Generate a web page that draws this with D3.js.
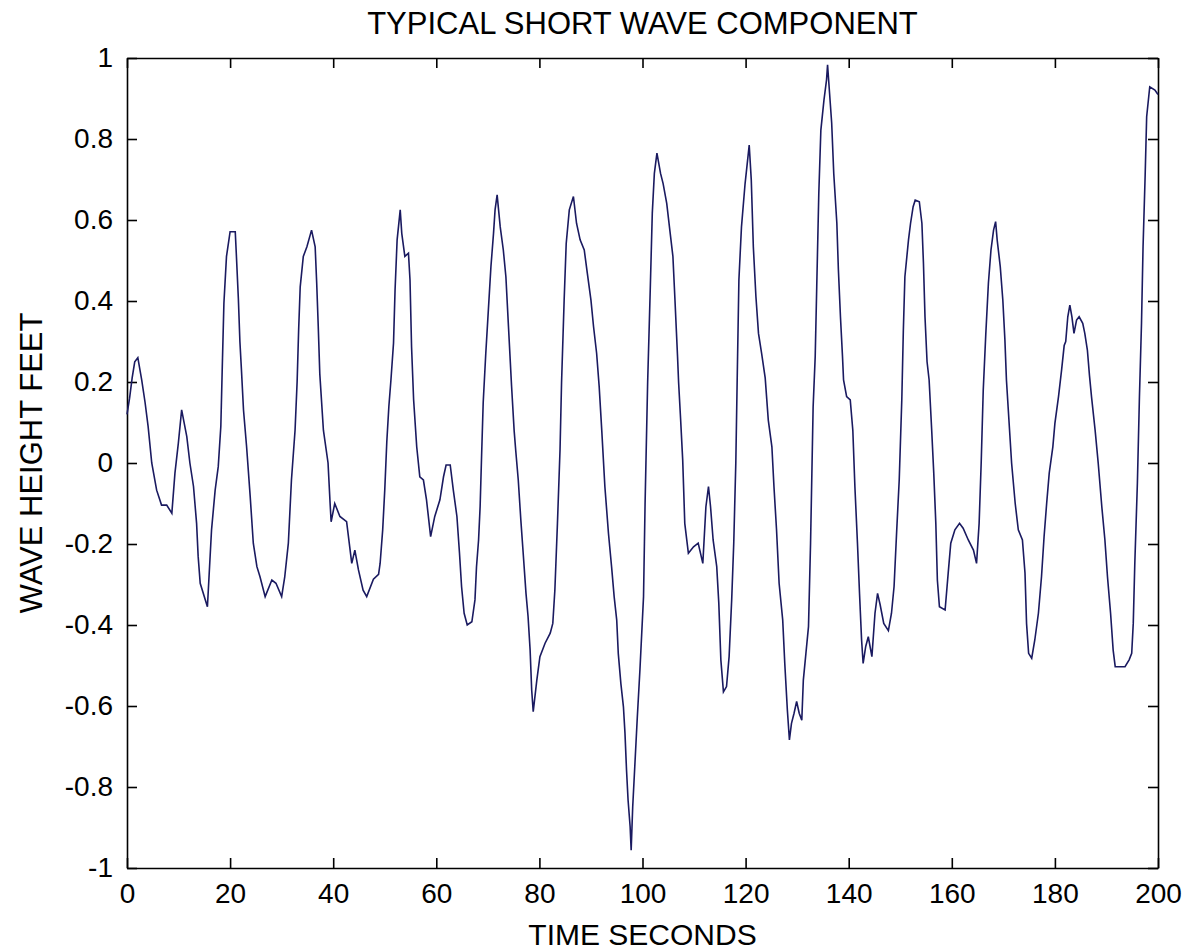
<!DOCTYPE html>
<html>
<head>
<meta charset="utf-8">
<script src="https://cdn.jsdelivr.net/npm/d3@7"></script>
<style>
  body { margin: 0; background: #fff; }
  text { font-family: "Liberation Sans", Arial, sans-serif; fill: #000; }
</style>
</head>
<body>
<svg width="1190" height="951"></svg>
<script>
// wave record
var times = [0, 0.5, 1.0, 1.5, 2.1, 2.85, 3.5, 4.1, 4.8, 5.75, 6.7, 7.7, 8.7, 9.3, 9.96, 10.6, 11.6, 12.2, 12.9, 13.5,
  13.8, 14.2, 15.6, 16.4, 17.1, 17.7, 18.2, 18.5, 18.8, 19.3, 20, 21, 21.2, 21.6, 21.9, 22.2, 22.6, 23.2, 23.9, 24.5,
  25.2, 25.8, 26.8, 28.1, 28.9, 30, 30.6, 31.3, 31.9, 32.6, 33.0, 33.3, 33.6, 34.2, 34.9, 35.8, 36.5, 36.8, 37.1, 37.4,
  38.1, 39.0, 39.4, 39.6, 40.3, 41.3, 42.6, 43.6, 44.2, 44.9, 45.8, 46.5, 47.8, 48.8, 49.1, 49.6, 50.0, 50.4, 50.8, 51.2,
  51.7, 52.0, 52.4, 53.0, 53.3, 53.9, 54.6, 54.9, 55.2, 55.6, 56.2, 56.8, 57.5, 58.1, 58.9, 59.7, 60.7, 61.4, 61.9, 62.7,
  63.3, 64.0, 64.5, 64.9, 65.4, 66.0, 66.9, 67.5, 67.8, 68.2, 68.5, 68.8, 69.1, 69.6, 70.1, 70.6, 71.1, 71.4, 71.8, 72.4,
  73.0, 73.5, 74.0, 74.6, 75.1, 75.4, 75.9, 76.4, 76.9, 77.4, 77.8, 78.2, 78.5, 78.8, 79.5, 80.1, 81.1, 82.1, 82.6, 83.0,
  83.5, 84.0, 84.3, 84.8, 85.2, 85.8, 86.6, 87.2, 87.9, 88.7, 89.3, 90.0, 90.5, 91.1, 91.6, 92.1, 92.7, 93.4, 94.0, 94.5,
  95.0, 95.3, 95.8, 96.3, 96.6, 96.9, 97.2, 97.6, 97.8, 98.1, 98.5, 99.0, 99.5, 100.2, 100.5, 101.0, 101.5, 101.9, 102.3, 102.8,
  103.5, 104.0, 104.7, 105.3, 105.9, 106.3, 106.8, 107.0, 107.4, 107.8, 108.2, 108.9, 109.9, 110.8, 111.7, 112.3, 112.8, 113.2, 113.7, 114.4,
  114.8, 115.2, 115.7, 116.3, 116.8, 117.3, 117.7, 118.1, 118.4, 118.7, 119.2, 119.9, 120.7, 121.1, 121.5, 122.0, 122.5, 123.1, 123.8, 124.4,
  125.1, 125.5, 126.0, 126.5, 127.2, 127.6, 128.1, 128.5, 128.9, 129.4, 129.9, 130.4, 130.9, 131.2, 131.7, 132.2, 132.6, 133.1, 133.5, 133.8,
  134.2, 134.6, 135.2, 135.7, 135.9, 136.2, 136.7, 137.1, 137.7, 138.0, 138.4, 138.8, 139.0, 139.6, 140.3, 140.8, 141.2, 141.7, 142.1, 142.5,
  142.8, 143.3, 143.8, 144.5, 145.1, 145.6, 146.1, 146.8, 147.7, 148.3, 148.8, 149.3, 149.8, 150.3, 150.6, 150.9, 151.6, 152.0, 152.5, 152.9,
  153.7, 154.2, 154.5, 154.8, 155.2, 155.6, 156.1, 156.5, 156.9, 157.2, 157.6, 158.7, 159.3, 159.8, 160.6, 161.5, 162.2, 163.2, 164.2, 164.8,
  165.3, 165.7, 166.1, 166.6, 167.1, 167.6, 168.1, 168.5, 168.8, 169.4, 169.9, 170.3, 170.6, 171.0, 171.6, 172.3, 172.9, 173.7, 174.2, 174.5,
  174.9, 175.5, 176.1, 176.8, 177.4, 177.9, 178.4, 178.9, 179.6, 180.0, 180.7, 181.3, 181.8, 182.1, 182.5, 182.9, 183.3, 183.7, 184.2, 184.7,
  185.4, 185.8, 186.3, 186.7, 187.1, 187.8, 188.4, 189.1, 189.7, 190.2, 190.8, 191.3, 191.7, 193.6, 194.4, 194.9, 195.2, 195.5, 196.0, 196.4,
  196.8, 197.1, 197.5, 197.8, 198.4, 199.4, 200];

var heights = [0.12, 0.16, 0.21, 0.25, 0.26, 0.205, 0.15, 0.09, 0, -0.067, -0.104, -0.104, -0.124, -0.025, 0.049, 0.131, 0.065, 0, -0.058, -0.149,
  -0.23, -0.297, -0.355, -0.165, -0.067, -0.009, 0.09, 0.246, 0.395, 0.51, 0.571, 0.571, 0.518, 0.407, 0.30, 0.23, 0.131, 0.04, -0.083, -0.198,
  -0.256, -0.281, -0.33, -0.289, -0.297, -0.33, -0.281, -0.198, -0.042, 0.081, 0.2, 0.33, 0.435, 0.51, 0.534, 0.575, 0.534, 0.444, 0.337, 0.22,
  0.081, 0, -0.1, -0.145, -0.1, -0.132, -0.145, -0.248, -0.215, -0.264, -0.314, -0.33, -0.287, -0.275, -0.248, -0.165, -0.067, 0.053, 0.14, 0.205,
  0.296, 0.427, 0.551, 0.625, 0.567, 0.51, 0.518, 0.452, 0.287, 0.156, 0.04, -0.034, -0.042, -0.091, -0.182, -0.132, -0.091, -0.034, -0.005, -0.005,
  -0.067, -0.132, -0.223, -0.305, -0.371, -0.4, -0.392, -0.338, -0.256, -0.19, -0.108, 0.024, 0.15, 0.271, 0.378, 0.485, 0.567, 0.625, 0.662, 0.583,
  0.526, 0.46, 0.337, 0.19, 0.08, 0.032, -0.042, -0.141, -0.231, -0.322, -0.379, -0.462, -0.56, -0.614, -0.536, -0.478, -0.445, -0.42, -0.396, -0.314,
  -0.149, 0.032, 0.2, 0.402, 0.542, 0.625, 0.658, 0.592, 0.551, 0.526, 0.468, 0.402, 0.337, 0.271, 0.188, 0.08, -0.058, -0.174, -0.256, -0.33,
  -0.388, -0.47, -0.544, -0.602, -0.667, -0.758, -0.832, -0.898, -0.956, -0.849, -0.75, -0.626, -0.511, -0.33, -0.1, 0.2, 0.427, 0.617, 0.715, 0.765,
  0.715, 0.69, 0.641, 0.575, 0.51, 0.402, 0.262, 0.2, 0.106, 0.007, -0.149, -0.223, -0.207, -0.198, -0.248, -0.108, -0.058, -0.108, -0.19, -0.256,
  -0.346, -0.486, -0.565, -0.552, -0.478, -0.338, -0.198, 0, 0.23, 0.452, 0.583, 0.69, 0.785, 0.699, 0.534, 0.411, 0.32, 0.271, 0.21, 0.106,
  0.04, -0.058, -0.165, -0.297, -0.388, -0.495, -0.61, -0.684, -0.643, -0.618, -0.589, -0.618, -0.635, -0.536, -0.47, -0.404, -0.198, 0.139, 0.262, 0.435,
  0.666, 0.822, 0.896, 0.946, 0.983, 0.929, 0.839, 0.715, 0.592, 0.477, 0.361, 0.262, 0.205, 0.164, 0.156, 0.081, -0.058, -0.198, -0.322, -0.437,
  -0.495, -0.453, -0.429, -0.478, -0.371, -0.322, -0.35, -0.396, -0.414, -0.371, -0.305, -0.17, -0.042, 0.156, 0.328, 0.46, 0.551, 0.592, 0.633, 0.649,
  0.645, 0.592, 0.493, 0.361, 0.25, 0.205, 0.081, -0.025, -0.149, -0.289, -0.355, -0.363, -0.272, -0.198, -0.165, -0.149, -0.161, -0.19, -0.215, -0.248,
  -0.149, 0, 0.18, 0.32, 0.444, 0.526, 0.575, 0.596, 0.551, 0.485, 0.402, 0.304, 0.205, 0.123, 0, -0.1, -0.165, -0.19, -0.272, -0.396,
  -0.47, -0.482, -0.437, -0.371, -0.281, -0.182, -0.1, -0.025, 0.04, 0.098, 0.164, 0.23, 0.29, 0.3, 0.361, 0.39, 0.361, 0.32, 0.353, 0.361,
  0.345, 0.32, 0.279, 0.217, 0.164, 0.081, 0, -0.108, -0.19, -0.281, -0.371, -0.462, -0.503, -0.503, -0.486, -0.47, -0.396, -0.248, -0.05, 0.164,
  0.345, 0.534, 0.707, 0.855, 0.929, 0.921, 0.91];

var xTicks = [0, 20, 40, 60, 80, 100, 120, 140, 160, 180, 200];
var yTicks = [-1, -0.8, -0.6, -0.4, -0.2, 0, 0.2, 0.4, 0.6, 0.8, 1];
var yTickLabels = ['-1', '-0.8', '-0.6', '-0.4', '-0.2', '0', '0.2', '0.4', '0.6', '0.8', '1'];

var svg = d3.select('svg'),
  margin = {top: 58, right: 32, bottom: 83, left: 127},
  w = +svg.attr('width') - margin.left - margin.right,
  h = +svg.attr('height') - margin.top - margin.bottom,
  g = svg.append('g').attr('transform', 'translate(' + margin.left + ',' + margin.top + ')');

var x = d3.scaleLinear().domain([0, 200]).range([0, w]);
var y = d3.scaleLinear().domain([-1, 1]).range([h, 0]);

var tickLen = 10, fs = 28;

// matlab style: ticks point inwards on all four sides
function style(ax) {
  ax.select('.domain').attr('stroke', '#000').attr('stroke-width', 1.6);
  ax.selectAll('.tick line').attr('stroke', '#000').attr('stroke-width', 1.6);
  ax.selectAll('.tick text').style('font-size', fs + 'px').attr('fill', '#1a1a1a');
  ax.attr('font-family', null).attr('font-size', null);
}

g.append('g')
  .attr('transform', 'translate(0,' + h + ')')
  .call(d3.axisBottom(x).tickValues(xTicks).tickSize(-tickLen).tickSizeOuter(0).tickPadding(15).tickFormat(d3.format('d')))
  .call(style);

g.append('g')
  .call(d3.axisTop(x).tickValues(xTicks).tickSize(-tickLen).tickSizeOuter(0).tickFormat(''))
  .call(style);

g.append('g')
  .call(d3.axisLeft(y).tickValues(yTicks).tickSize(-tickLen).tickSizeOuter(0).tickPadding(14)
    .tickFormat(function(d, i) { return yTickLabels[i]; }))
  .call(style);

g.append('g')
  .attr('transform', 'translate(' + w + ',0)')
  .call(d3.axisRight(y).tickValues(yTicks).tickSize(-tickLen).tickSizeOuter(0).tickFormat(''))
  .call(style);

var line = d3.line()
  .x(function(d, i) { return x(times[i]); })
  .y(function(d) { return y(d); });

g.append('path')
  .datum(heights)
  .attr('fill', 'none')
  .attr('stroke', '#1a1a60')
  .attr('stroke-width', 1.6)
  .attr('stroke-linejoin', 'miter')
  .attr('d', line);

// titles
svg.append('text')
  .attr('x', margin.left + w / 2)
  .attr('y', 34)
  .attr('text-anchor', 'middle')
  .style('font-size', '31px')
  .attr('fill', '#1a1a1a')
  .text('TYPICAL SHORT WAVE COMPONENT');

svg.append('text')
  .attr('x', margin.left + w / 2)
  .attr('y', 945)
  .attr('text-anchor', 'middle')
  .style('font-size', '30px')
  .attr('fill', '#1a1a1a')
  .text('TIME SECONDS');

svg.append('text')
  .attr('transform', 'translate(42,' + (margin.top + h / 2) + ') rotate(-90)')
  .attr('text-anchor', 'middle')
  .style('font-size', '31px')
  .attr('fill', '#1a1a1a')
  .text('WAVE HEIGHT FEET');
</script>
</body>
</html>
